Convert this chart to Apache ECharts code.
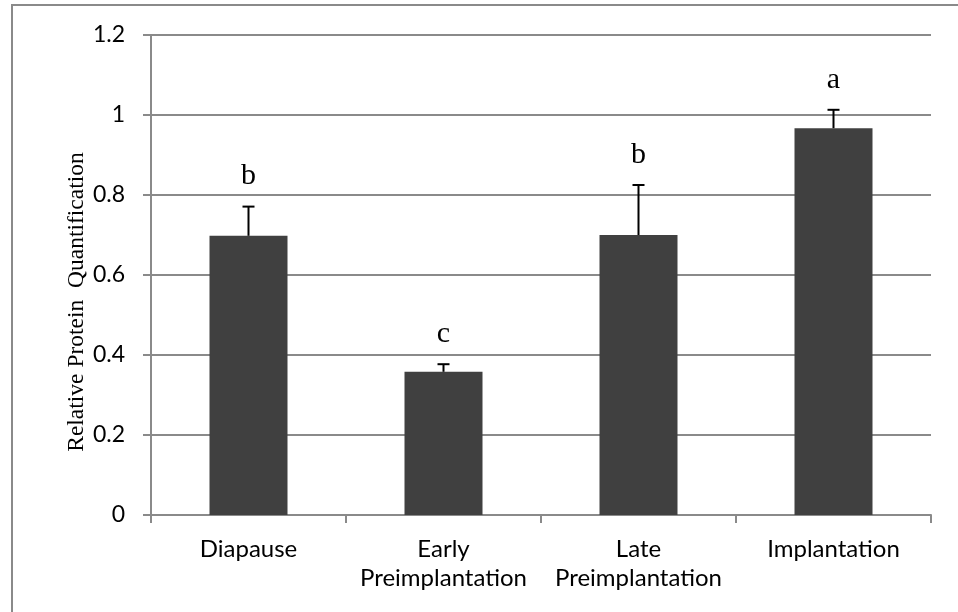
<!DOCTYPE html>
<html>
<head>
<meta charset="utf-8">
<script src="https://cdn.jsdelivr.net/npm/echarts@6/dist/echarts.min.js"></script>
<style>html,body{margin:0;padding:0;background:#fff}#c{width:958px;height:612px}</style>
</head>
<body>
<div id="c"></div>
<script>
const categories = ['Diapause', 'Early\nPreimplantation', 'Late\nPreimplantation', 'Implantation'];
const means = [0.698, 0.358, 0.700, 0.967];
const errors = [0.073, 0.019, 0.125, 0.046];
const letters = ['b', 'c', 'b', 'a'];
const yTitle = 'Relative Protein  Quantification';

const chart = echarts.init(document.getElementById('c'));
const gray = '#8a8a8a';
const errData = means.map((m, i) => [i, m, errors[i]]);

chart.setOption({
  animation: false,
  backgroundColor: '#fff',
  grid: { left: 151, right: 27, top: 35, bottom: 97, containLabel: false },
  graphic: [
    { type: 'rect', shape: { x: 12, y: 5, width: 1000, height: 700 }, style: { fill: 'none', stroke: gray, lineWidth: 2 }, silent: true },
    { type: 'text', x: 77, y: 302, rotation: Math.PI / 2,
      style: { text: yTitle, fontSize: 23.5, fontFamily: '"Liberation Serif", "Times New Roman", serif', fill: '#000', align: 'center', verticalAlign: 'middle' } }
  ],
  xAxis: {
    type: 'category',
    data: categories,
    axisLine: { lineStyle: { color: gray, width: 2 } },
    axisTick: { show: true, length: 8, alignWithLabel: false, lineStyle: { color: gray, width: 2 } },
    axisLabel: { color: '#000', fontFamily: 'Lato', fontSize: 24, margin: 20, lineHeight: 29, interval: 0 },
    splitLine: { show: false }
  },
  yAxis: {
    type: 'value',
    min: 0, max: 1.2, interval: 0.2,
    axisLine: { show: true, lineStyle: { color: gray, width: 2 } },
    axisTick: { show: true, length: 8, lineStyle: { color: gray, width: 2 } },
    axisLabel: { color: '#000', fontFamily: 'Lato', fontSize: 23, margin: 26 },
    splitLine: { show: true, lineStyle: { color: gray, width: 2 } }
  },
  series: [
    {
      type: 'bar',
      data: means,
      barWidth: '40%',
      itemStyle: { color: '#404040' },
      z: 2
    },
    {
      type: 'custom',
      data: errData,
      z: 3,
      renderItem: function (params, api) {
        const i = api.value(0);
        const m = api.value(1);
        const e = api.value(2);
        const base = api.coord([i, m]);
        const top = api.coord([i, m + e]);
        const half = 6;
        return {
          type: 'group',
          children: [
            { type: 'line', shape: { x1: base[0], y1: base[1], x2: top[0], y2: top[1] }, style: { stroke: '#000', lineWidth: 2 } },
            { type: 'line', shape: { x1: top[0] - half, y1: top[1], x2: top[0] + half, y2: top[1] }, style: { stroke: '#000', lineWidth: 2 } },
            { type: 'text', x: top[0], y: top[1] - 15,
              style: { text: letters[params.dataIndex], fontSize: 30, fontFamily: '"Liberation Serif", "Times New Roman", serif', fill: '#000', align: 'center', verticalAlign: 'bottom' } }
          ]
        };
      }
    }
  ]
});
</script>
</body>
</html>
